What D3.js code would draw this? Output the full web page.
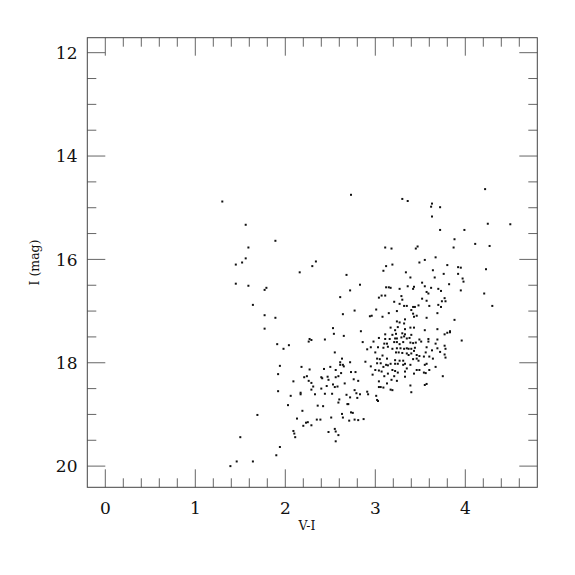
<!DOCTYPE html>
<html>
<head>
<meta charset="utf-8">
<script src="https://cdn.jsdelivr.net/npm/d3@7"></script>
<style>
  body { margin: 0; background: #fff; }
  text { font-family: "DejaVu Serif", serif; fill: #111; }
</style>
</head>
<body>
<div id="chart"></div>
<script>
// colour index V-I and magnitude I
var vi = [
  1.30,2.73,1.56,1.89,1.59,1.56,1.45,1.52,1.45,1.59,1.79,1.77,1.64,1.77,1.89,2.34,2.30,2.16,2.68,2.83,
  2.72,2.61,2.77,2.64,3.01,2.94,2.96,3.04,
  4.22,3.30,3.36,3.63,3.62,3.72,3.63,4.25,4.50,3.72,3.99,3.88,4.11,4.27,3.87,3.11,3.18,3.47,3.45,3.67,
  3.55,3.49,3.80,3.92,3.95,3.19,3.12,3.09,3.64,4.23,3.34,3.76,3.92,3.66,3.97,3.98,3.39,3.52,3.82,3.12,
  3.15,3.17,3.27,3.36,3.43,3.42,3.55,3.62,3.57,3.59,3.70,3.73,3.95,4.21,3.07,3.11,3.29,3.30,3.52,3.57,
  3.74,3.78,3.77,3.21,3.27,3.32,3.35,3.42,3.44,3.48,3.60,3.70,3.73,4.30,3.40,3.15,3.24,3.42,3.46,3.43,
  3.69,3.57,3.08,3.33,3.88,
  1.77,2.84,2.53,2.54,2.65,2.44,2.27,2.29,2.26,1.91,2.04,1.98,2.55,1.94,1.92,1.92,2.03,2.06,2.09,2.17,
  2.17,2.18,2.21,2.24,2.27,2.26,2.29,2.31,2.29,2.33,2.40,2.41,2.43,2.40,2.44,2.47,2.48,2.50,2.46,2.53,
  2.52,2.56,2.59,2.61,2.61,2.63,2.64,2.65,2.56,2.62,2.60,2.59,2.55,2.58,2.66,2.72,2.73,2.76,2.78,2.77,
  2.79,2.81,2.80,2.83,2.68,2.69,2.72,2.89,2.91,2.95,2.97,2.91,2.92,3.01,3.04,3.06,3.09,3.02,3.17,3.19,
  2.86,2.98,2.95,3.00,3.02,3.05,3.08,3.02,3.06,3.04,3.07,3.09,3.12,3.14,3.13,3.09,3.03,3.10,3.13,3.04,
  3.11,3.16,3.11,3.19,3.23,3.17,3.22,3.25,3.24,3.27,3.32,3.22,3.24,3.29,3.32,3.21,3.24,3.27,3.31,3.35,
  3.38,3.33,3.40,3.39,3.43,3.24,3.28,3.32,3.35,3.37,3.14,3.19,3.23,3.26,3.30,3.35,3.37,3.40,3.43,3.40,
  3.46,3.49,3.44,3.39,3.42,3.45,3.49,3.51,3.59,3.57,3.56,3.63,3.60,3.69,3.72,3.77,3.78,3.77,3.78,3.69,
  3.77,3.55,3.67,3.75,3.55,3.57,3.67,3.64,3.54,3.46,3.48,3.42,3.54,3.56,3.46,3.49,3.43,3.57,3.39,3.40,
  3.39,3.31,3.33,3.27,3.31,3.22,3.17,3.22,3.25,3.19,3.22,3.25,3.33,3.14,3.10,3.21,3.13,3.18,3.24,3.35,
  3.30,3.33,3.83,3.69,3.60,
  1.69,1.50,1.39,1.46,1.64,1.90,1.94,2.09,2.10,2.11,2.13,2.19,2.20,2.23,2.25,2.29,2.35,2.39,2.42,2.36,
  2.51,2.48,2.55,2.56,2.59,2.56,2.63,2.64,2.71,2.77,2.81,2.87,2.73,2.75,2.70,
  3.96,3.80,3.83,3.55,3.03,3.59,3.33,3.00,3.04
];
var imag = [
  14.88,14.75,15.33,15.64,15.77,15.98,16.10,16.06,16.47,16.51,16.55,16.59,16.88,17.08,17.13,16.04,16.13,16.25,16.30,16.49,
  16.60,16.73,16.99,17.06,16.97,17.10,17.09,16.74,
  14.64,14.83,14.87,14.92,14.98,14.99,15.17,15.31,15.32,15.43,15.43,15.61,15.70,15.74,15.77,15.77,15.79,15.75,15.79,15.96,
  16.01,16.06,16.11,16.15,16.16,16.10,16.13,16.22,16.21,16.19,16.25,16.28,16.28,16.35,16.37,16.43,16.35,16.45,16.48,16.54,
  16.54,16.55,16.57,16.52,16.53,16.57,16.52,16.55,16.63,16.66,16.57,16.61,16.60,16.66,16.70,16.70,16.71,16.78,16.76,16.80,
  16.81,16.81,16.75,16.82,16.86,16.90,16.90,16.92,16.92,16.89,16.90,16.88,16.92,16.90,16.98,17.04,17.00,17.05,17.09,17.11,
  17.04,17.13,17.11,17.16,17.17,
  17.34,17.39,17.33,17.44,17.48,17.55,17.54,17.56,17.59,17.64,17.66,17.73,17.80,18.06,18.22,18.55,18.82,18.64,18.36,18.58,
  18.61,18.08,18.28,18.26,18.13,18.35,18.39,18.46,18.52,18.61,18.28,18.30,18.12,18.50,18.60,18.27,18.33,18.08,18.45,18.42,
  18.60,18.28,18.26,17.99,18.04,17.92,18.04,18.07,18.14,18.20,18.71,18.77,18.47,18.46,18.40,17.99,18.18,18.32,18.18,18.53,
  18.59,18.35,18.68,18.61,18.62,18.80,18.67,17.98,17.74,18.07,18.23,18.56,18.61,18.64,18.47,18.47,18.48,18.72,18.52,18.53,
  17.60,17.59,17.70,17.80,17.92,17.93,17.86,18.01,18.01,18.15,18.17,18.08,18.04,18.05,17.92,17.71,17.70,17.63,17.63,17.52,
  17.54,17.54,17.45,17.46,17.44,17.32,17.37,17.31,17.20,17.22,17.24,17.53,17.53,17.51,17.49,17.60,17.60,17.64,17.60,17.53,
  17.52,17.45,17.46,17.32,17.32,17.72,17.72,17.73,17.72,17.73,17.69,17.73,17.80,17.80,17.81,17.82,17.85,17.73,17.77,17.82,
  17.85,17.87,17.71,17.61,17.62,17.61,17.55,17.59,17.59,17.70,17.80,17.76,17.88,17.72,17.79,17.67,17.73,17.84,17.90,17.35,
  17.45,17.37,17.63,18.26,18.04,18.02,18.08,17.92,17.88,17.92,17.96,17.93,18.19,18.20,18.14,18.14,18.21,18.41,18.44,18.57,
  18.04,18.04,18.02,17.96,17.96,17.95,18.02,18.02,18.02,18.14,18.16,18.19,18.17,18.21,18.26,18.26,18.40,18.33,18.35,18.11,
  17.43,17.35,17.39,17.55,18.14,
  19.01,19.44,20.00,19.91,19.91,19.79,19.63,19.32,19.37,19.44,19.08,18.93,19.22,19.16,19.15,19.21,19.10,19.10,18.84,18.83,
  19.06,19.34,19.28,19.33,19.40,19.52,18.99,19.06,19.12,19.10,19.11,19.09,18.96,18.97,18.80,
  17.57,17.42,17.41,18.43,18.74,17.54,18.27,18.14,18.36
];
var xTicks = [0, 1, 2, 3, 4];
var yTicks = [12, 14, 16, 18, 20];

var W = 575, H = 575;
var mLeft = 87.3, mRight = 537.3, mTop = 37.7, mBottom = 487.3;
var majorLen = 18, minorLen = 9;

var svg = d3.select("#chart").append("svg")
    .attr("width", W)
    .attr("height", H);

var x = d3.scaleLinear().domain([-0.2, 4.8]).range([mLeft, mRight]);
var y = d3.scaleLinear().domain([11.71, 20.41]).range([mTop, mBottom]);

var xMinor = d3.range(1, 25).map(function (i) { return -0.2 + i * 0.2; })
    .filter(function (v) { return Math.abs(v - Math.round(v)) > 0.01; });
var yMinor = d3.range(0, 18).map(function (i) { return 12 + i * 0.5; })
    .filter(function (v) { return v < 20.4 && v % 2 !== 0; });

// ticks, drawn inward on all four sides
var tickColor = "#666";
function ticksX(vals, len) {
  svg.append("g").selectAll("line").data(vals).enter().append("line")
    .attr("x1", function (d) { return x(d); }).attr("x2", function (d) { return x(d); })
    .attr("y1", mBottom).attr("y2", mBottom - len)
    .attr("stroke", tickColor);
  svg.append("g").selectAll("line").data(vals).enter().append("line")
    .attr("x1", function (d) { return x(d); }).attr("x2", function (d) { return x(d); })
    .attr("y1", mTop).attr("y2", mTop + len)
    .attr("stroke", tickColor);
}
function ticksY(vals, len) {
  svg.append("g").selectAll("line").data(vals).enter().append("line")
    .attr("y1", function (d) { return y(d); }).attr("y2", function (d) { return y(d); })
    .attr("x1", mLeft).attr("x2", mLeft + len)
    .attr("stroke", tickColor);
  svg.append("g").selectAll("line").data(vals).enter().append("line")
    .attr("y1", function (d) { return y(d); }).attr("y2", function (d) { return y(d); })
    .attr("x1", mRight).attr("x2", mRight - len)
    .attr("stroke", tickColor);
}
ticksX(xTicks, majorLen);
ticksX(xMinor, minorLen);
ticksY(yTicks, majorLen);
ticksY(yMinor, minorLen);

svg.append("rect")
    .attr("x", mLeft).attr("y", mTop)
    .attr("width", mRight - mLeft).attr("height", mBottom - mTop)
    .attr("fill", "none")
    .attr("stroke", "#444")
    .attr("stroke-width", 1);

// tick labels
svg.append("g").selectAll("text").data(xTicks).enter().append("text")
    .attr("x", function (d) { return x(d); })
    .attr("y", 513.5)
    .attr("text-anchor", "middle")
    .style("font-size", "17px")
    .text(function (d) { return d; });

svg.append("g").selectAll("text").data(yTicks).enter().append("text")
    .attr("x", 77.5)
    .attr("y", function (d) { return y(d) + 6.2; })
    .attr("text-anchor", "end")
    .style("font-size", "17px")
    .text(function (d) { return d; });

svg.append("text")
    .attr("x", 307)
    .attr("y", 529.5)
    .attr("text-anchor", "middle")
    .style("font-size", "12.5px")
    .text("V-I");

svg.append("text")
    .attr("transform", "translate(38.5,262.5) rotate(-90)")
    .attr("text-anchor", "middle")
    .style("font-size", "12.5px")
    .text("I (mag)");

// stars
svg.append("g").selectAll("rect").data(vi).enter().append("rect")
    .attr("x", function (d) { return x(d) - 1; })
    .attr("y", function (d, i) { return y(imag[i]) - 1; })
    .attr("width", 2)
    .attr("height", 2)
    .attr("fill", "#111");
</script>
</body>
</html>
